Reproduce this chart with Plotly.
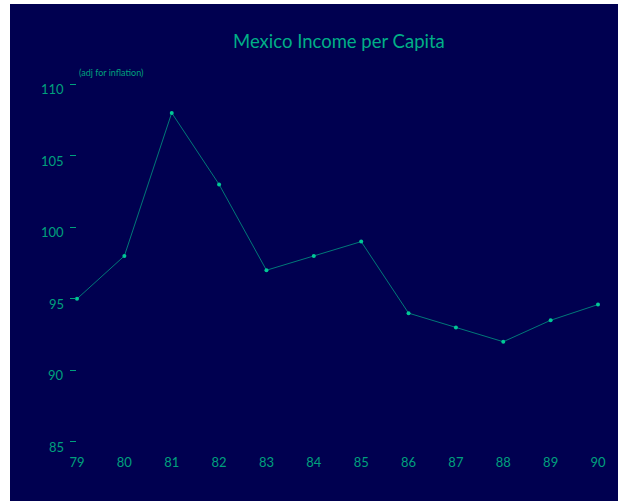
import plotly.graph_objects as go

years = [79, 80, 81, 82, 83, 84, 85, 86, 87, 88, 89, 90]
income = [95.0, 98.0, 108.0, 103.0, 97.0, 98.0, 99.0, 94.0, 93.0, 92.0, 93.5, 94.6]
y_ticks = [85, 90, 95, 100, 105, 110]
y_labels = [str(v) for v in y_ticks]
x_labels = [str(y) for y in years]

BG = "rgb(0,0,80)"
TXT = "rgb(0,160,125)"
LINE = "rgb(0,120,120)"
MARK = "rgb(0,200,150)"
FONT = "Lato, 'Open Sans', sans-serif"

fig = go.Figure()
fig.add_trace(go.Scatter(
    x=years, y=income, mode="lines+markers",
    line=dict(color=LINE, width=1),
    marker=dict(color=MARK, size=4),
    cliponaxis=False,
    hoverinfo="x+y",
))

annotations = [dict(text="(adj for inflation)", x=0, xref="paper",
                    y=110.3, yref="y", xanchor="left", yanchor="bottom",
                    showarrow=False,
                    font=dict(size=9, color=TXT, family=FONT))]
for v, lab in zip(y_ticks, y_labels):
    annotations.append(dict(text=lab, x=0, xref="paper", y=v, yref="y",
                            xanchor="right", yanchor="middle", showarrow=False,
                            xshift=-11, yshift=-5,
                            font=dict(size=13, color=TXT, family=FONT)))

fig.update_layout(
    width=608, height=497,
    paper_bgcolor=BG, plot_bgcolor=BG,
    margin=dict(l=67, r=18, t=76, b=52),
    showlegend=False,
    font=dict(family=FONT, color=TXT, size=13),
    title=dict(text="Mexico Income per Capita", x=0.541, xanchor="center",
               y=1 - 38 / 497, yanchor="middle",
               font=dict(size=18.5, color="rgb(0,175,135)", family=FONT)),
    xaxis=dict(range=[79, 90], tickvals=years, ticktext=x_labels,
               showgrid=False, zeroline=False, showline=False, ticks="",
               ticklabelstandoff=4,
               tickfont=dict(size=13, color=TXT)),
    yaxis=dict(range=[84.5, 110.3], tickvals=y_ticks, showticklabels=False,
               showgrid=False, zeroline=False, showline=False,
               ticks="outside", ticklen=6, tickcolor=TXT, tickwidth=1),
    annotations=annotations,
)

fig.write_html("out.html", post_script="document.body.style.margin='4px 0 0 10px';")
